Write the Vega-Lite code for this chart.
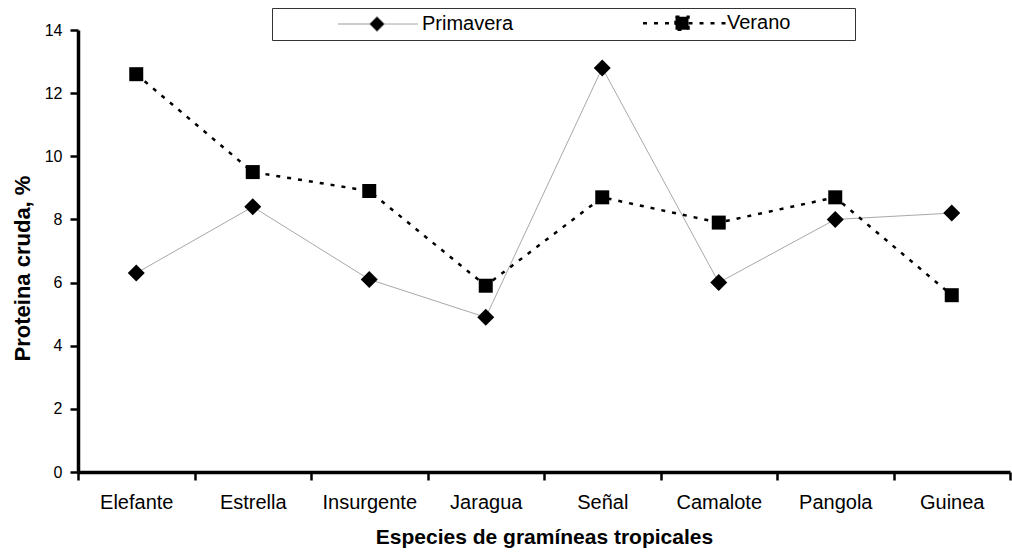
{
  "$schema": "https://vega.github.io/schema/vega-lite/v6.json",
  "width": 932,
  "height": 442,
  "autosize": "none",
  "padding": {"left": 78, "top": 30, "right": 2, "bottom": 81},
  "background": "white",
  "data": {
    "values": [
      {"especie": "Elefante", "serie": "Primavera", "valor": 6.3},
      {"especie": "Estrella", "serie": "Primavera", "valor": 8.4},
      {"especie": "Insurgente", "serie": "Primavera", "valor": 6.1},
      {"especie": "Jaragua", "serie": "Primavera", "valor": 4.9},
      {"especie": "Señal", "serie": "Primavera", "valor": 12.8},
      {"especie": "Camalote", "serie": "Primavera", "valor": 6.0},
      {"especie": "Pangola", "serie": "Primavera", "valor": 8.0},
      {"especie": "Guinea", "serie": "Primavera", "valor": 8.2},
      {"especie": "Elefante", "serie": "Verano", "valor": 12.6},
      {"especie": "Estrella", "serie": "Verano", "valor": 9.5},
      {"especie": "Insurgente", "serie": "Verano", "valor": 8.9},
      {"especie": "Jaragua", "serie": "Verano", "valor": 5.9},
      {"especie": "Señal", "serie": "Verano", "valor": 8.7},
      {"especie": "Camalote", "serie": "Verano", "valor": 7.9},
      {"especie": "Pangola", "serie": "Verano", "valor": 8.7},
      {"especie": "Guinea", "serie": "Verano", "valor": 5.6}
    ]
  },
  "encoding": {
    "x": {
      "field": "especie",
      "type": "nominal",
      "sort": ["Elefante", "Estrella", "Insurgente", "Jaragua", "Señal", "Camalote", "Pangola", "Guinea"],
      "bandPosition": 0.5,
      "scale": {"type": "band", "paddingInner": 0, "paddingOuter": 0},
      "axis": {
        "title": "Especies de gramíneas tropicales",
        "titleFont": "Liberation Sans",
        "titleFontSize": 21,
        "titleFontWeight": "bold",
        "titleColor": "#000",
        "titlePadding": 14,
        "labelFont": "Liberation Sans",
        "labelFontSize": 20,
        "labelColor": "#000",
        "labelAngle": 0,
        "labelPadding": 12,
        "tickBand": "extent",
        "tickColor": "#000",
        "tickWidth": 2.5,
        "tickSize": 8,
        "domainColor": "#000",
        "domainWidth": 3.5
      }
    },
    "y": {
      "field": "valor",
      "type": "quantitative",
      "scale": {"domain": [0, 14], "nice": false},
      "axis": {
        "title": "Proteina cruda, %",
        "titleFont": "Liberation Sans",
        "titleFontSize": 22,
        "titleFontWeight": "bold",
        "titleColor": "#000",
        "titlePadding": 10,
        "titleY": 238,
        "values": [0, 2, 4, 6, 8, 10, 12, 14],
        "labelFont": "Liberation Sans",
        "labelFontSize": 16,
        "labelColor": "#000",
        "labelPadding": 8,
        "grid": false,
        "tickColor": "#000",
        "tickWidth": 2.5,
        "tickSize": 8,
        "domainColor": "#000",
        "domainWidth": 3.5
      }
    }
  },
  "layer": [
    {
      "transform": [{"filter": {"field": "serie", "equal": "Primavera"}}],
      "mark": {"type": "line", "color": "#a8a8a8", "strokeWidth": 1}
    },
    {
      "transform": [{"filter": {"field": "serie", "equal": "Verano"}}],
      "mark": {"type": "line", "color": "#000", "strokeWidth": 2.5, "strokeDash": [4, 7]}
    },
    {
      "transform": [{"filter": {"field": "serie", "equal": "Primavera"}}],
      "mark": {"type": "point", "shape": "diamond", "filled": true, "color": "#000", "size": 289, "opacity": 1}
    },
    {
      "transform": [{"filter": {"field": "serie", "equal": "Verano"}}],
      "mark": {"type": "point", "shape": "square", "filled": true, "color": "#000", "size": 196, "opacity": 1}
    },
    {
      "transform": [{"filter": "false"}],
      "mark": {"type": "point", "filled": true, "opacity": 1},
      "encoding": {
        "fill": {"value": "#000"},
        "shape": {
          "field": "serie",
          "type": "nominal",
          "scale": {
            "domain": ["Primavera", "Verano"],
            "range": [
              "M-7.8,0L-1.5,0M1.5,0L8.2,0M0,-1.5L1.5,0L0,1.5L-1.5,0Z",
              "M-7.8,0L-1.3,0M1.3,0L8.8,0M-1.3,-1.3L1.3,-1.3L1.3,1.3L-1.3,1.3ZM32.6,0"
            ]
          },
          "legend": {
            "orient": "none",
            "legendX": 194,
            "legendY": -22,
            "direction": "horizontal",
            "title": null,
            "symbolSize": 100,
            "symbolOpacity": 1,
            "symbolFillColor": "#000",
            "labelFont": "Liberation Sans",
            "labelFontSize": 20,
            "labelColor": "#000",
            "labelOffset": 35,
            "symbolOffset": 90,
            "columnPadding": 68,
            "padding": 5,
            "strokeColor": "#333",
            "fillColor": "white"
          }
        },
        "stroke": {
          "field": "serie",
          "type": "nominal",
          "scale": {"domain": ["Primavera", "Verano"], "range": ["#999999", "#000000"]}
        },
        "strokeDash": {
          "field": "serie",
          "type": "nominal",
          "scale": {"domain": ["Primavera", "Verano"], "range": [[1, 0], [4, 7]]}
        },
        "strokeWidth": {
          "field": "serie",
          "type": "ordinal",
          "scale": {"domain": ["Primavera", "Verano"], "range": [1, 2.5]}
        }
      }
    }
  ],
  "config": {
    "view": {"stroke": null},
    "font": "Liberation Sans"
  }
}
